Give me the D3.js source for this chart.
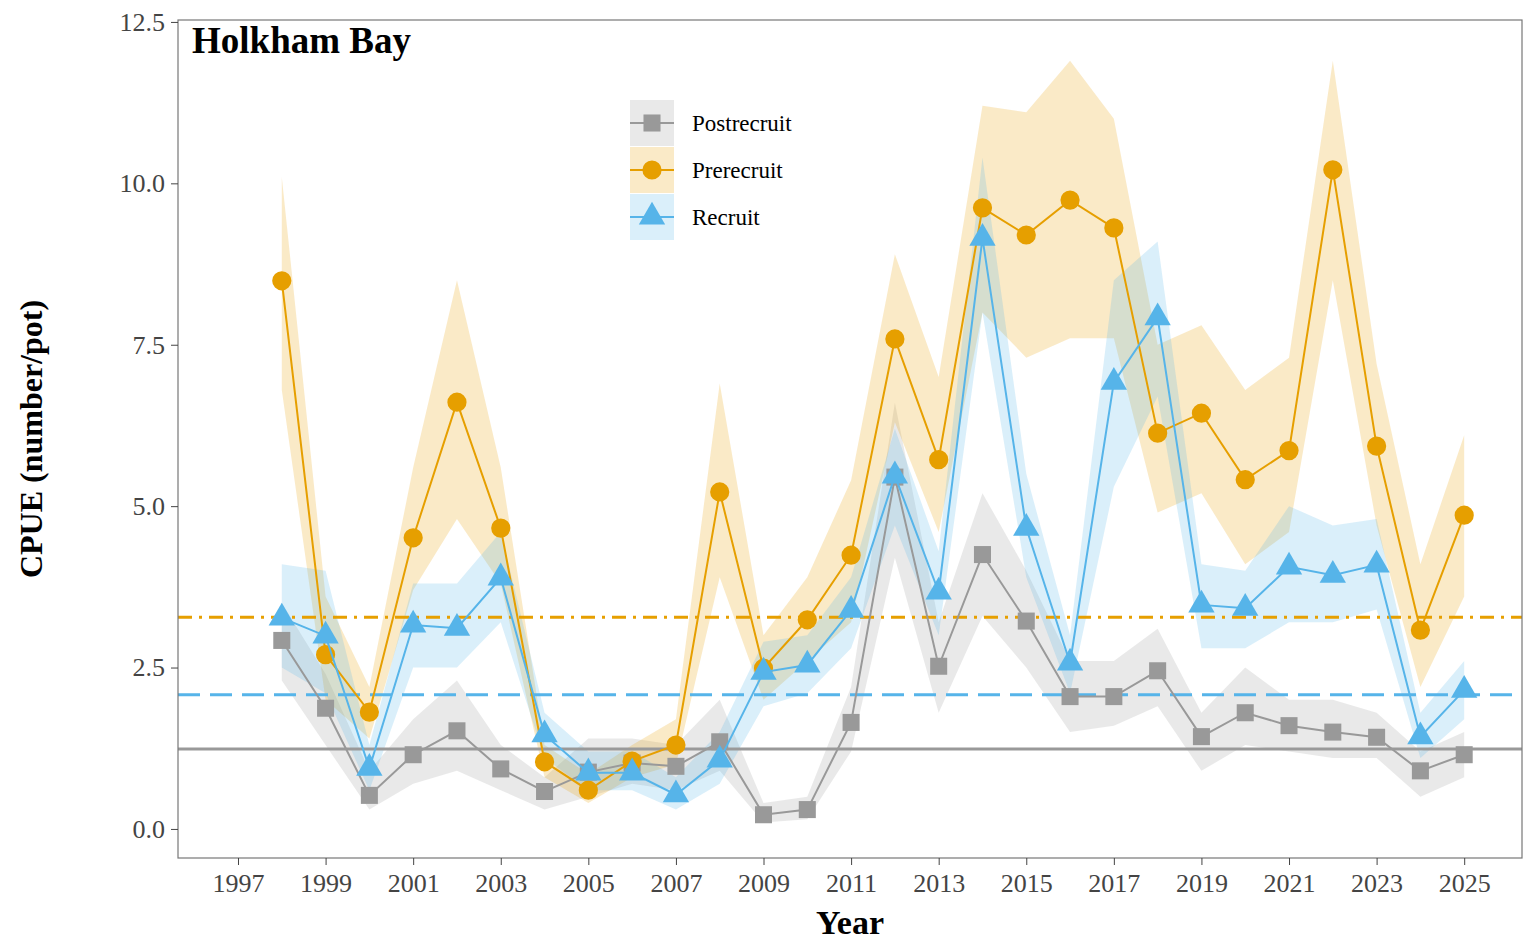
<!DOCTYPE html>
<html><head><meta charset="utf-8">
<script src="https://cdn.jsdelivr.net/npm/d3@7"></script>
<style>body{margin:0;background:#fff}</style></head>
<body><svg id="chart" width="1524" height="942"></svg>
<script>
// Holkham Bay CPUE by stage
const years = d3.range(1998, 2026);
const postrecruit = [2.92,1.87,0.52,1.15,1.52,0.93,0.58,0.88,1.02,0.97,1.35,0.22,0.30,1.65,5.45,2.52,4.25,3.22,2.05,2.05,2.45,1.43,1.80,1.60,1.50,1.42,0.90,1.15];
const postLo = [2.3,1.3,0.3,0.7,0.9,0.6,0.3,0.5,0.7,0.6,0.9,0.1,0.15,1.2,4.2,1.8,3.3,2.5,1.5,1.6,1.9,0.9,1.3,1.2,1.1,1.1,0.5,0.8];
const postHi = [3.5,2.4,0.9,1.7,2.3,1.3,0.8,1.4,1.4,1.3,2.0,0.4,0.5,2.2,6.6,3.2,5.2,4.0,2.6,2.6,3.1,1.8,2.5,2.0,2.0,1.8,1.2,1.5];
const prerecruit = [8.49,2.70,1.81,4.51,6.61,4.66,1.04,0.60,1.05,1.30,5.22,2.49,3.24,4.24,7.59,5.72,9.62,9.20,9.74,9.31,6.13,6.44,5.41,5.86,10.21,5.93,3.08,4.86];
const preLo = [6.8,2.0,1.4,3.7,4.8,3.8,0.8,0.4,0.8,1.0,3.9,2.0,2.6,3.2,6.3,4.6,8.0,7.3,7.6,7.6,4.9,5.2,4.1,4.6,8.5,4.7,2.2,3.6];
const preHi = [10.1,3.6,2.2,5.6,8.5,5.6,1.3,0.85,1.3,1.7,6.9,3.0,3.9,5.4,8.9,7.0,11.2,11.1,11.9,11.0,7.5,7.8,6.8,7.3,11.9,7.2,4.1,6.1];
const recruit = [3.27,2.99,0.94,3.16,3.11,3.89,1.46,0.87,0.87,0.53,1.07,2.43,2.54,3.39,5.47,3.67,9.15,4.66,2.57,6.92,7.92,3.47,3.42,4.06,3.93,4.09,1.43,2.15];
const recLo = [2.5,2.1,0.6,2.5,2.5,3.2,1.1,0.6,0.6,0.3,0.7,1.9,2.1,2.8,4.7,3.0,8.0,3.9,2.1,5.3,6.7,2.8,2.8,3.2,3.2,3.4,1.1,1.7];
const recHi = [4.1,4.0,1.3,3.8,3.8,4.6,1.8,1.2,1.2,0.8,1.5,2.9,3.0,3.9,6.2,4.3,10.4,5.5,3.0,8.5,9.1,4.1,4.0,5.0,4.7,4.8,1.8,2.6];
const means = {Postrecruit: 1.24, Recruit: 2.08, Prerecruit: 3.28};
const xTicks = d3.range(1997, 2026, 2);
const yTicks = [0, 2.5, 5, 7.5, 10, 12.5];

const series = [
  {name:'Postrecruit', color:'#999999', vals:postrecruit, lo:postLo, hi:postHi, shape:d3.symbolSquare, dash:null},
  {name:'Prerecruit', color:'#E69F00', vals:prerecruit, lo:preLo, hi:preHi, shape:d3.symbolCircle, dash:'14,7,3,7'},
  {name:'Recruit', color:'#56B4E9', vals:recruit, lo:recLo, hi:recHi, shape:d3.symbolTriangle, dash:'22,10'}
];

const svg = d3.select('#chart');
const font = '"Liberation Serif", "Times New Roman", serif';
const L = 178, R = 1522, T = 20, B = 858;
const x = d3.scaleLinear().domain([1995.63, 2026.32]).range([L, R]);
const y = d3.scaleLinear().domain([-0.45, 12.53]).range([B, T]);

// bands
series.forEach(s => {
  const area = d3.area().x((d, i) => x(years[i])).y0((d, i) => y(s.lo[i])).y1((d, i) => y(s.hi[i]));
  svg.append('path').attr('d', area(s.vals)).attr('fill', s.color).attr('opacity', 0.22);
});

// mean lines
series.forEach(s => {
  svg.append('line').attr('x1', L).attr('x2', R)
    .attr('y1', y(means[s.name])).attr('y2', y(means[s.name]))
    .attr('stroke', s.color).attr('stroke-width', 3)
    .attr('stroke-dasharray', s.dash);
});

// lines and points
series.forEach(s => {
  const line = d3.line().x((d, i) => x(years[i])).y(d => y(d));
  svg.append('path').attr('d', line(s.vals)).attr('fill', 'none')
    .attr('stroke', s.color).attr('stroke-width', 2);
  svg.selectAll(null).data(s.vals).enter().append('path')
    .attr('transform', (d, i) => `translate(${x(years[i])},${y(d)})`)
    .attr('d', d3.symbol().type(s.shape).size(s.shape === d3.symbolTriangle ? 300 : 290))
    .attr('fill', s.color);
});

// frame
svg.append('rect').attr('x', L).attr('y', T).attr('width', R - L).attr('height', B - T)
  .attr('fill', 'none').attr('stroke', '#777').attr('stroke-width', 1.2);

// axes
const xa = svg.append('g').attr('transform', `translate(0,${B})`)
  .call(d3.axisBottom(x).tickValues(xTicks).tickFormat(d3.format('d')).tickSize(7).tickPadding(9));
const ya = svg.append('g').attr('transform', `translate(${L},0)`)
  .call(d3.axisLeft(y).tickValues(yTicks).tickFormat(d3.format('.1f')).tickSize(7).tickPadding(6));
[xa, ya].forEach(a => {
  a.select('.domain').remove();
  a.selectAll('line').attr('stroke', '#444');
  a.selectAll('text').attr('font-family', font).attr('font-size', 26).attr('fill', '#444');
});

svg.append('text').attr('x', (L + R) / 2).attr('y', 934).attr('text-anchor', 'middle')
  .attr('font-family', font).attr('font-size', 34).attr('font-weight', 'bold').text('Year');
svg.append('text').attr('transform', `translate(42,${(T + B) / 2}) rotate(-90)`).attr('text-anchor', 'middle')
  .attr('font-family', font).attr('font-size', 32).attr('font-weight', 'bold').text('CPUE (number/pot)');
svg.append('text').attr('x', 192).attr('y', 53).attr('font-family', font)
  .attr('font-size', 37).attr('font-weight', 'bold').text('Holkham Bay');

// legend
const lg = svg.append('g').attr('transform', 'translate(630,100)');
series.forEach((s, i) => {
  const g = lg.append('g').attr('transform', `translate(0,${i * 47})`);
  g.append('rect').attr('width', 44).attr('height', 46).attr('fill', s.color).attr('opacity', 0.22);
  g.append('line').attr('x1', 0).attr('x2', 44).attr('y1', 23).attr('y2', 23).attr('stroke', s.color).attr('stroke-width', 2);
  g.append('path').attr('transform', 'translate(22,23)')
    .attr('d', d3.symbol().type(s.shape).size(s.shape === d3.symbolTriangle ? 300 : 290)).attr('fill', s.color);
  g.append('text').attr('x', 62).attr('y', 31).attr('font-family', font).attr('font-size', 23).text(s.name);
});
</script></body></html>
